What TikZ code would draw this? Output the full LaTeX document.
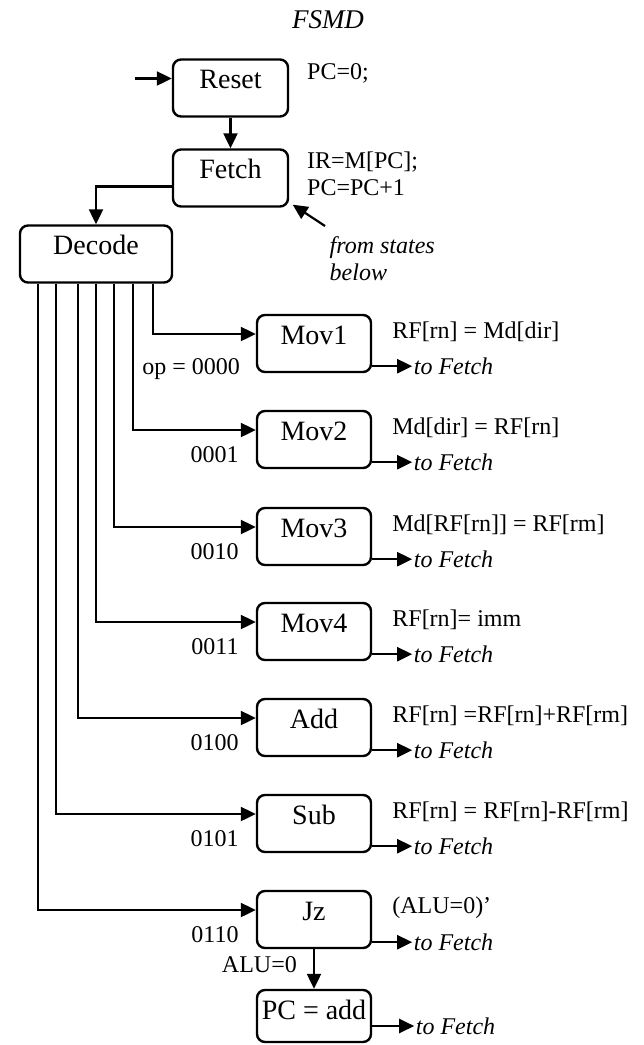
\documentclass[tikz,border=0pt]{standalone}
\usepackage{fontspec}
\setmainfont{Liberation Serif}
\usetikzlibrary{arrows.meta}
\newcommand{\boxfont}{\fontsize{28}{32}\selectfont}
\newcommand{\txtfont}{\fontsize{24}{27}\selectfont}
\begin{document}
\begin{tikzpicture}[x=1pt,y=-1pt,
  every node/.style={inner sep=0pt},
  state/.style={draw, line width=2.4pt, rounded corners=8pt, minimum width=114pt,
    text height=29pt, text depth=28pt, inner ysep=0pt, font=\boxfont},
  act/.style={anchor=west, font=\txtfont, align=left},
  code/.style={anchor=east, font=\txtfont},
  note/.style={anchor=west, font=\txtfont\itshape, inner sep=1.5pt},
  arr/.style={line width=2.2pt, -{Triangle[length=15pt,width=14pt]}}]
\useasboundingbox (0,0) rectangle (644,1045);

% title
\node[font=\fontsize{27}{30}\selectfont\itshape] (title) at (328,20) {FSMD};

% fetch / decode states
\node[state, minimum width=115pt] (reset) at (230.5,88) {Reset};
\node[state, minimum width=115pt] (fetch) at (230.5,178) {Fetch};
\node[state, minimum width=152pt] (dec) at (96,254) {Decode};

\coordinate (start) at (135,78.5);
\draw[arr] (start) -- ([yshift=9.5pt]reset.west);
\draw[arr] (reset.south) -- (fetch.north);
\draw[arr] ([yshift=-8.5pt]fetch.west) -| (dec.north);

\node[act] (a0) at (307,73) {PC=0;};
\node[act] (af) at (307,173.5) {IR=M[PC];\\PC=PC+1};

\node[note, align=left, font=\fontsize{24}{27}\selectfont\itshape] (from) at (328,258.5) {from states\\below};
\coordinate (fs) at (325,226);
\draw[arr] (fs) -- ([xshift=3.5pt,yshift=3pt]fetch.south east);

% execute states
\foreach \nm/\lbl/\yc/\xs/\act/\op in {
  m1/Mov1/343.5/134/{RF[rn] = Md[dir]}/{},
  m2/Mov2/439.5/114/{Md[dir] = RF[rn]}/0001,
  m3/Mov3/536.5/95/{Md[RF[rn]] = RF[rm]}/0010,
  m4/Mov4/631.5/77/{RF[rn]= imm}/0011,
  ad/Add/727.5/59/{RF[rn] =RF[rn]+RF[rm]}/0100,
  sb/Sub/823.5/37/{RF[rn] = RF[rn]-RF[rm]}/0101,
  jz/Jz/919.5/19/{(ALU=0)’}/0110}{
  \node[state] (\nm) at (314,\yc) {\lbl};
  \draw[arr] ([xshift=\xs pt]dec.south west) |- ([yshift=9.5pt]\nm.west);
  \node[act] (\nm a) at ([xshift=20pt,yshift=11.5pt]\nm.east) {\act};
  \node[note] (\nm t) at ([xshift=40pt,yshift=7pt]\nm.south east) {to Fetch};
  \draw[arr] ([yshift=7pt]\nm.south east) -- (\nm t.west);
  \node[code] (\nm c) at ([xshift=-17pt,yshift=-15.5pt]\nm.west) {\op};
}
\node[code] (m1c) at (240,369) {op = 0000};

% jump target
\node[state, text depth=23pt] (pc) at (314,1016) {PC = add};
\draw[arr] (jz.south) -- (pc.north);
\node[code] (alu) at (297,965) {ALU=0};
\node[note] (pct) at ([xshift=42pt,yshift=-10pt]pc.east) {to Fetch};
\draw[arr] ([yshift=-10pt]pc.east) -- (pct.west);
\end{tikzpicture}
\end{document}
